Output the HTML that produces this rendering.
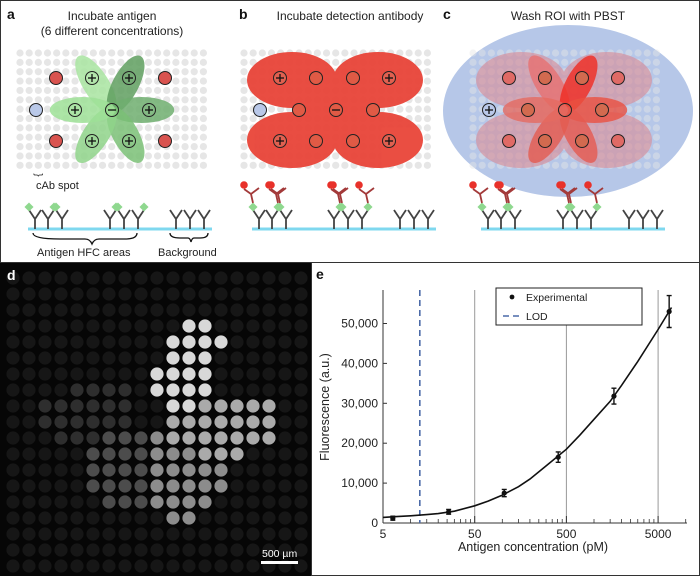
<!DOCTYPE html>
<html><head><meta charset="utf-8">
<style>
html,body{margin:0;padding:0;background:#fff}
body{width:700px;height:576px;overflow:hidden;font-family:"Liberation Sans",sans-serif}
svg{display:block}
</style></head>
<body>
<svg id="fig" width="700" height="576" viewBox="0 0 700 576" xmlns="http://www.w3.org/2000/svg">
<rect x="0.5" y="0.5" width="699" height="575" fill="#fff" stroke="#333"/>
<g id="topg"></g>
<g id="paneld"></g>
<g id="panele"></g>
</svg>
<script>
const NS="http://www.w3.org/2000/svg";
function mk(tag,attrs,parent){const e=document.createElementNS(NS,tag);for(const k in attrs)e.setAttribute(k,attrs[k]);parent.appendChild(e);return e;}
function txt(s,attrs,parent){const e=mk('text',attrs,parent);e.textContent=s;return e;}

/* ---------- chart data (panel e) ---------- */
const concentrations=[6.4,26,105,407,1650,6600];
const fluorescence=[1200,2800,7500,16500,31800,53000];
const errors=[500,600,900,1300,2000,4000];
const fitConc=[5,7,10,15,20,30,50,70,100,150,200,300,500,700,1000,1500,2000,3000,5000,7000];
const fitValue=[1400,1600,1800,2100,2350,2950,4300,5500,7000,9100,11000,14300,18500,22000,26000,30500,34500,40500,48500,54000];
const lodConc=[12.6];
const xTicks=[5,50,500,5000];
const xTickLabels=["5","50","500","5000"];
const yTicks=[0,10000,20000,30000,40000,50000];
const yTickLabels=["0","10,000","20,000","30,000","40,000","50,000"];

/* ---------- top schematic ---------- */
const gTop=document.getElementById('topg');
function greyGrid(g,ox){
  for(let r=0;r<13;r++)for(let c=0;c<21;c++){
    mk('circle',{cx:ox+20+c*9.17,cy:53+r*9.36,r:3.6,fill:'#e6e6e6'},g);
  }
}
const spots=[[56,78,'r'],[92,78,'p'],[129,78,'p'],[165,78,'r'],[36,110,'b'],[75,110,'p'],[112,110,'m'],[149,110,'p'],[56,141,'r'],[92,141,'p'],[129,141,'p'],[165,141,'r']];
function sym(g,x,y,kind){
  if(kind==='p'||kind==='m'){
    mk('line',{x1:x-4,y1:y,x2:x+4,y2:y,stroke:'#111','stroke-width':1.3},g);
    if(kind==='p')mk('line',{x1:x,y1:y-4,x2:x,y2:y+4,stroke:'#111','stroke-width':1.3},g);
  }
}
function petals(g,ox,colors,op){
  const cx=ox+112,cy=110;
  const tg=[[92,78],[129,78],[149,110],[129,141],[92,141],[75,110]];
  tg.forEach((t,i)=>{
    const dx=t[0]+ox-cx,dy=t[1]-cy;const ang=Math.atan2(dy,dx)*180/Math.PI;
    const L=Math.hypot(dx,dy);
    const mx=cx+dx*0.8,my=cy+dy*0.8;
    const e=mk('ellipse',{cx:mx,cy:my,rx:L*0.8+3,ry:13,fill:colors[i],opacity:op,transform:`rotate(${ang} ${mx} ${my})`},g);
    
    
  });
}
function antibodies(g,ox,mode){
  mk('rect',{x:ox+28,y:227.5,width:184,height:3,fill:'#7fd8ef'},g);
  const xs=[35,48,62,110,124,138,176,190,204];
  xs.forEach((x,i)=>{
    x+=ox;
    const p=`M${x},229 L${x},219 M${x},219 L${x-6},210 M${x},219 L${x+6},210`;
    mk('path',{d:p,stroke:'#444','stroke-width':1.8,fill:'none'},g);
    if(i<6&&mode>0){
      const ax=(i%2===0)?x-6:x+6, ay=207;
      mk('rect',{x:ax-3.2,y:ay-3.2,width:6.4,height:6.4,fill:'#8fd88f',transform:`rotate(45 ${ax} ${ay})`},g);
      if(mode>1){
        mk('path',{d:`M${ax},${ay-4} L${ax-2},${ay-13} M${ax-2},${ay-13} L${ax-9},${ay-18} M${ax-2},${ay-13} L${ax+6},${ay-19}`,stroke:'#a33a3a','stroke-width':1.8,fill:'none'},g);
        mk('circle',{cx:ax-9,cy:ay-22,r:3.8,fill:'#e8312a'},g);
      }
    }
  });
}
// Panel a
const ga=mk('g',{},gTop);
txt('a',{x:7,y:19,'font-size':14,'font-weight':'bold',fill:'#111'},ga);
txt('Incubate antigen',{x:112,y:20,'font-size':12,'text-anchor':'middle',fill:'#222'},ga);
txt('(6 different concentrations)',{x:112,y:35,'font-size':12,'text-anchor':'middle',fill:'#222'},ga);
greyGrid(ga,0);
petals(ga,0,['#a8e4a0','#5f9f5f','#6fae6f','#7abf76','#8fd48a','#9ee096'],0.85);
spots.forEach(s=>{
  const f=s[2]==='r'?'#d9534f':s[2]==='b'?'#b9c8e8':'none';
  const c=mk('circle',{cx:s[0],cy:s[1],r:6.5,fill:f,stroke:'#222','stroke-width':1},ga);
  
  
  sym(ga,s[0],s[1],s[2]);
});
txt('{',{x:41,y:175,'font-size':10,fill:'#222',transform:'rotate(-90 41 175)','text-anchor':'middle'},ga);
txt('cAb spot',{x:36,y:189,'font-size':11,fill:'#222'},ga);
antibodies(ga,0,1);
mk('path',{d:'M33,233 Q33,239 60,239 L85,239 Q90,239 92,244 Q94,239 99,239 L125,239 Q137,239 137,233',stroke:'#111','stroke-width':1.3,fill:'none'},ga);
mk('path',{d:'M170,233 Q170,238 180,238 L188,238 Q190,238 191,242 Q192,238 194,238 L200,238 Q208,238 208,233',stroke:'#111','stroke-width':1.3,fill:'none'},ga);
txt('Antigen HFC areas',{x:37,y:256,'font-size':11,fill:'#222'},ga);
txt('Background',{x:158,y:256,'font-size':11,fill:'#222'},ga);

// Panel b
const OB=224;
const gb=mk('g',{},gTop);
txt('b',{x:239,y:19,'font-size':14,'font-weight':'bold',fill:'#111'},gb);
txt('Incubate detection antibody',{x:350,y:20,'font-size':12,'text-anchor':'middle',fill:'#222'},gb);
greyGrid(gb,OB);
function blob(g,ox,fill,op){
  const bg=mk('g',{opacity:op},g);
  [[292,80],[378,80],[292,140],[378,140]].forEach(p=>mk('ellipse',{cx:p[0]+ox-OB,cy:p[1],rx:45,ry:28,fill:fill},bg));
  mk('ellipse',{cx:336+ox-OB,cy:110,rx:44,ry:34,fill:fill},bg);
  mk('rect',{x:300+ox-OB,y:75,width:70,height:70,fill:fill},bg);
  return bg;
}
const bb=blob(gb,OB,'#e9483c',0.97);
spots.forEach(s=>{
  const x=s[0]+OB;
  const f=s[2]==='b'?'#b9c8e8':(s[2]==='r'?'#e06050':'#e05a45');
  mk('circle',{cx:x,cy:s[1],r:6.5,fill:f,stroke:'#222','stroke-width':1},gb);
  if(s[2]==='m')sym(gb,x,s[1],'m');
  if(s[2]==='r')sym(gb,x,s[1],'p');
});
antibodies(gb,OB,2);

// Panel c
const OC=453;
const gc=mk('g',{},gTop);
txt('c',{x:443,y:19,'font-size':14,'font-weight':'bold',fill:'#111'},gc);
txt('Wash ROI with PBST',{x:568,y:20,'font-size':12,'text-anchor':'middle',fill:'#222'},gc);
const roi=mk('ellipse',{cx:568,cy:111,rx:125,ry:86,fill:'#b6c7e8'},gc);

const gg=mk('g',{opacity:0.45},gc);greyGrid(gg,OC);
blob(gc,OC,'#d98a94',0.6);
petals(gc,OC,['#e77070','#f02a20','#ea5040','#e55a50','#e35b50','#e56a60'],0.8);
spots.forEach(s=>{
  const x=s[0]+OC;
  if(s[2]==='b'){mk('circle',{cx:x,cy:s[1],r:6.5,fill:'#b9c8e8',stroke:'#222','stroke-width':1},gc);sym(gc,x,s[1],'p');return;}
  const f=s[2]==='r'?'#e06a65':(s[2]==='m'?'none':'#d26a4f');
  mk('circle',{cx:x,cy:s[1],r:6.5,fill:f,stroke:'#222','stroke-width':1},gc);
});
antibodies(gc,OC,2);

/* ---------- panel d ---------- */
const gd=document.getElementById('paneld');
mk('rect',{x:0,y:263,width:311,height:313,fill:'#060606'},gd);
mk('line',{x1:0,y1:262.5,x2:700,y2:262.5,stroke:'#333','stroke-width':1},gd);
function inEll(x,y,cx,cy,rx,ry,a){const t=a*Math.PI/180;const dx=x-cx,dy=y-cy;const u=dx*Math.cos(t)+dy*Math.sin(t),v=-dx*Math.sin(t)+dy*Math.cos(t);return (u*u)/(rx*rx)+(v*v)/(ry*ry)<=1;}
const lobes=[[188,368,28,52,25,'#d8d8d8'],[220,424,62,32,0,'#aaaaaa'],[188,467,40,56,0,'#8c8c8c'],[122,470,36,42,20,'#4c4c4c'],[88,413,52,28,-10,'#2e2e2e']];
for(let r=0;r<19;r++)for(let c=0;c<19;c++){
  const x=13+c*16,y=278+r*16;
  let f='#161616';
  for(const L of lobes){if(inEll(x,y,L[0],L[1],L[2],L[3],L[4])){f=L[5];break;}}
  mk('circle',{cx:x,cy:y,r:6.6,fill:f},gd);
}
txt('d',{x:7,y:280,'font-size':14,'font-weight':'bold',fill:'#fff'},gd);
txt('500 µm',{x:262,y:557,'font-size':10.5,fill:'#fff'},gd);
mk('rect',{x:261,y:561,width:37,height:3,fill:'#fff'},gd);
mk('line',{x1:311.5,y1:263,x2:311.5,y2:576,stroke:'#333'},gd);

/* ---------- panel e chart ---------- */
const ge=document.getElementById('panele');
const X0=383,DEC=91.7,Y0=523,PER=0.003990;
const xs=v=>X0+Math.log10(v/5)*DEC;
const ys=v=>Y0-v*PER;
txt('e',{x:316,y:279,'font-size':14,'font-weight':'bold',fill:'#111'},ge);
xTicks.forEach((t,i)=>{
  if(i>0){const gl=mk('line',{x1:xs(t),y1:290,x2:xs(t),y2:Y0,stroke:'#999','stroke-width':1},ge);}
  const tl=txt(xTickLabels[i],{x:xs(t),y:Y0+15,'font-size':12,'text-anchor':'middle',fill:'#222'},ge);
  
  for(let m=2;m<=9;m++){const v=t*m;if(xs(v)<687)mk('line',{x1:xs(v),y1:Y0,x2:xs(v),y2:Y0-4,stroke:'#333','stroke-width':0.8},ge);}
  mk('line',{x1:xs(t),y1:Y0,x2:xs(t),y2:Y0-7,stroke:'#333'},ge);
});
yTicks.forEach((t,i)=>{
  mk('line',{x1:X0,y1:ys(t),x2:X0+4,y2:ys(t),stroke:'#333'},ge);
  const tl=txt(yTickLabels[i],{x:X0-5,y:ys(t)+4,'font-size':12,'text-anchor':'end',fill:'#222'},ge);
  
});
mk('line',{x1:X0,y1:290,x2:X0,y2:Y0,stroke:'#333'},ge);
mk('line',{x1:X0,y1:Y0,x2:687,y2:Y0,stroke:'#333'},ge);
const xt=txt('Antigen concentration (pM)',{x:533,y:551,'font-size':12.5,'text-anchor':'middle',fill:'#222'},ge);

const yt=txt('Fluorescence (a.u.)',{x:329,y:407,'font-size':12.5,'text-anchor':'middle',fill:'#222',transform:'rotate(-90 329 407)'},ge);

const lod=mk('line',{x1:xs(lodConc[0]),y1:290,x2:xs(lodConc[0]),y2:Y0,stroke:'#4a6aa8','stroke-width':1.6,'stroke-dasharray':'6,4'},ge);

let d='';fitConc.forEach((c,i)=>{d+=(i?'L':'M')+xs(c).toFixed(1)+','+ys(fitValue[i]).toFixed(1);});
const fit=mk('path',{d:d,fill:'none',stroke:'#111','stroke-width':1.6},ge);

concentrations.forEach((c,i)=>{
  const x=xs(c),y=ys(fluorescence[i]);
  const eb=mk('path',{d:`M${x},${ys(fluorescence[i]-errors[i])}L${x},${ys(fluorescence[i]+errors[i])}M${x-2.5},${ys(fluorescence[i]-errors[i])}h5M${x-2.5},${ys(fluorescence[i]+errors[i])}h5`,stroke:'#111','stroke-width':1.4,fill:'none'},ge);
  
  const p=mk('circle',{cx:x,cy:y,r:2.6,fill:'#111'},ge);
  
});
const lg=mk('g',{},ge);
mk('rect',{x:496,y:288,width:146,height:37,fill:'#fff',stroke:'#222','stroke-width':1},lg);
mk('circle',{cx:512,cy:297,r:2.4,fill:'#111'},lg);
txt('Experimental',{x:526,y:301,'font-size':10.5,fill:'#222'},lg);
mk('line',{x1:503,y1:316,x2:521,y2:316,stroke:'#4a6aa8','stroke-width':1.6,'stroke-dasharray':'6,4'},lg);
txt('LOD',{x:526,y:320,'font-size':10.5,fill:'#222'},lg);
</script>
</body></html>
